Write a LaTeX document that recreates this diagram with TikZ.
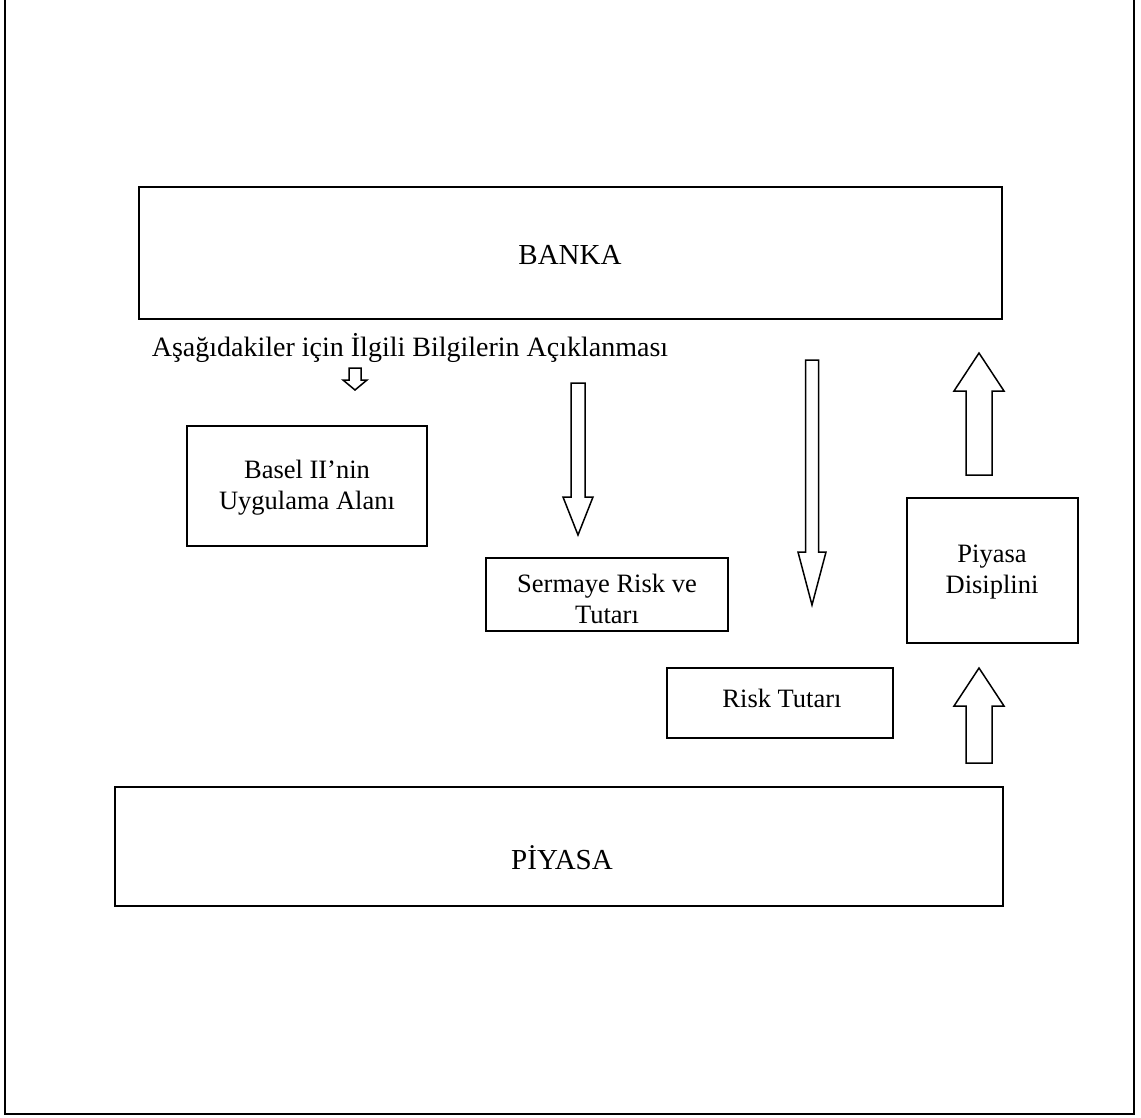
\documentclass[tikz,border=0pt]{standalone}
\usepackage{fontspec}
\setmainfont{Liberation Serif}
\begin{document}
\begin{tikzpicture}[x=1pt,y=-1pt,
  box/.style={draw,line width=2pt},
  label/.style={align=center,inner sep=0pt,font=\fontsize{26.5}{31}\selectfont},
  title/.style={inner sep=0pt,font=\fontsize{29}{34}\selectfont},
  blockarrow/.style={draw,line width=1.5pt,line join=miter,fill=white}]
% canvas
\useasboundingbox (0,0) rectangle (1141,1117);
\begin{scope}
\clip (0,0) rectangle (1141,1117);
\draw[line width=2.5pt] (5,-10) -- (5,1114) -- (1134,1114) -- (1134,-10);
\end{scope}

% hollow block arrow: centre x, tail y, tip y, shaft width, head width, head length
\newcommand\hollowarrow[6]{%
  \pgfmathsetmacro\hdir{(#3>#2)?1:-1}%
  \draw[blockarrow]
    ({#1-#4/2},#2) -- ({#1+#4/2},#2) -- ({#1+#4/2},{#3-\hdir*#6}) --
    ({#1+#5/2},{#3-\hdir*#6}) -- (#1,#3) -- ({#1-#5/2},{#3-\hdir*#6}) --
    ({#1-#4/2},{#3-\hdir*#6}) -- cycle;}

% main boxes
\draw[box] (139,187) rectangle (1002,319);
\node[title] (banka) at (570,255) {BANKA};
\draw[box] (115,787) rectangle (1003,906);
\node[title] (piyasa) at (562,858) {PİYASA};

% heading
\node[inner sep=0pt,font=\fontsize{28}{32}\selectfont] (baslik) at (410,348) {Aşağıdakiler için İlgili Bilgilerin Açıklanması};

% inner boxes
\draw[box] (187,426) rectangle (427,546);
\node[label] (basel) at (307,488) {Basel II’nin\\Uygulama Alanı};
\draw[box] (486,558) rectangle (728,631);
\node[label] (sermaye) at (607,599) {Sermaye Risk ve\\Tutarı};
\draw[box] (667,668) rectangle (893,738);
\node[label] (risk) at (782,698) {Risk Tutarı};
\draw[box] (907,498) rectangle (1078,643);
\node[label] (disiplin) at (992,572) {Piyasa\\Disiplini};

% arrows
\hollowarrow{355}{368}{390}{12}{24}{10}
\hollowarrow{578}{383}{535}{14}{30}{38}
\hollowarrow{812}{360}{605}{13}{28}{53}
\hollowarrow{979}{475}{353}{26}{50}{38}
\hollowarrow{979}{763}{668}{26}{50}{38}
\end{tikzpicture}
\end{document}
